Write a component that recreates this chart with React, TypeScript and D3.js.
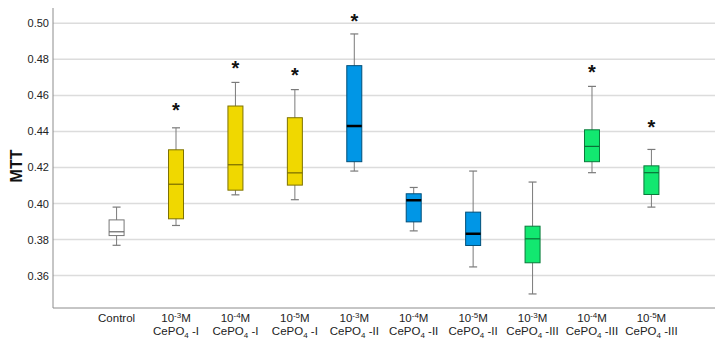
import { useEffect, useRef } from "react"
import * as d3 from "d3"

// Group labels: concentration (superscript exponent) and compound series
const exponents = ["", "-3", "-4", "-5", "-3", "-4", "-5", "-3", "-4", "-5"]
const series = ["Control", "I", "I", "I", "II", "II", "II", "III", "III", "III"]
const groups = ["Control", "I-3", "I-4", "I-5", "II-3", "II-4", "II-5", "III-3", "III-4", "III-5"]

// Box plot statistics for each group
const whiskerLow = [0.3768, 0.3878, 0.4048, 0.4021, 0.418, 0.3848, 0.3648, 0.3498, 0.4171, 0.398]
const q1 = [0.3822, 0.3915, 0.4074, 0.4102, 0.4232, 0.3898, 0.3767, 0.3671, 0.4232, 0.405]
const median = [0.3843, 0.4107, 0.4215, 0.417, 0.443, 0.4018, 0.3832, 0.3804, 0.4317, 0.4171]
const q3 = [0.3909, 0.4298, 0.4541, 0.4476, 0.4765, 0.4054, 0.3952, 0.3874, 0.4409, 0.4209]
const whiskerHigh = [0.398, 0.442, 0.4672, 0.4632, 0.4941, 0.4089, 0.418, 0.4119, 0.465, 0.43]

// Significance markers (null = not significant)
const stars: (number | null)[] = [null, 0.4544, 0.478, 0.4743, 0.504, null, null, null, 0.476, 0.445]

const yTicks = [0.36, 0.38, 0.4, 0.42, 0.44, 0.46, 0.48, 0.5]

const seriesColor: Record<string, string> = {
  Control: "#ffffff",
  I: "#f0d800",
  II: "#0096e6",
  III: "#12e870",
}

export default function App() {
  const svgRef = useRef<SVGSVGElement>(null)

  useEffect(() => {
    if (!svgRef.current) return
    document.body.style.margin = "0"

    const svg = d3.select(svgRef.current)
    svg.selectAll("*").remove()

    const width = 725
    const height = 343
    const left = 53
    const right = 715
    const top = 8
    const bottom = 308
    const font = "Arial, 'Liberation Sans', sans-serif"

    svg.attr("width", width).attr("height", height)

    const x = d3.scalePoint<string>().domain(groups).range([left, right]).padding(1.07)
    const y = d3.scaleLinear().domain([0.342, 0.5085]).range([bottom, top])

    // Gridlines
    svg
      .append("g")
      .selectAll("line")
      .data(yTicks)
      .enter()
      .append("line")
      .attr("x1", left)
      .attr("x2", right)
      .attr("y1", (d) => y(d))
      .attr("y2", (d) => y(d))
      .attr("stroke", "#dcdcdc")
      .attr("stroke-width", 1.5)

    // Y axis
    const yAxis = svg
      .append("g")
      .attr("transform", `translate(${left},0)`)
      .call(
        d3
          .axisLeft(y)
          .tickValues(yTicks)
          .tickSize(0)
          .tickPadding(4)
          .tickFormat(d3.format(".2f"))
      )
    yAxis.select(".domain").remove()
    yAxis
      .selectAll("text")
      .style("font-family", font)
      .style("font-size", "11px")
      .style("fill", "#222")

    svg
      .append("line")
      .attr("x1", left)
      .attr("x2", left)
      .attr("y1", top)
      .attr("y2", bottom)
      .attr("stroke", "#8c8c8c")
    svg
      .append("line")
      .attr("x1", left)
      .attr("x2", right)
      .attr("y1", bottom)
      .attr("y2", bottom)
      .attr("stroke", "#8c8c8c")

    // Y axis title
    svg
      .append("text")
      .attr("transform", `translate(22,${(top + bottom) / 2 + 8}) rotate(-90)`)
      .attr("text-anchor", "middle")
      .style("font-family", font)
      .style("font-size", "16px")
      .style("font-weight", "bold")
      .style("fill", "#111")
      .text("MTT")

    const boxW = 15
    const capW = 8
    const idx = d3.range(groups.length)

    const box = svg
      .append("g")
      .selectAll("g")
      .data(idx)
      .enter()
      .append("g")
      .attr("transform", (i) => `translate(${x(groups[i])},0)`)

    // Whiskers
    box
      .append("line")
      .attr("y1", (i) => y(whiskerLow[i]))
      .attr("y2", (i) => y(whiskerHigh[i]))
      .attr("stroke", "#7a7a7a")
    box
      .append("line")
      .attr("x1", -capW / 2)
      .attr("x2", capW / 2)
      .attr("y1", (i) => y(whiskerHigh[i]))
      .attr("y2", (i) => y(whiskerHigh[i]))
      .attr("stroke", "#7a7a7a")
      .attr("stroke-width", 1.2)
    box
      .append("line")
      .attr("x1", -capW / 2)
      .attr("x2", capW / 2)
      .attr("y1", (i) => y(whiskerLow[i]))
      .attr("y2", (i) => y(whiskerLow[i]))
      .attr("stroke", "#7a7a7a")
      .attr("stroke-width", 1.2)

    // Boxes
    box
      .append("rect")
      .attr("x", -boxW / 2)
      .attr("width", boxW)
      .attr("y", (i) => y(q3[i]))
      .attr("height", (i) => y(q1[i]) - y(q3[i]))
      .attr("fill", (i) => seriesColor[series[i]])
      .attr("stroke", (i) =>
        series[i] === "Control" ? "#777" : d3.color(seriesColor[series[i]])!.darker(1.8).formatHex()
      )

    // Medians
    box
      .append("line")
      .attr("x1", -boxW / 2)
      .attr("x2", boxW / 2)
      .attr("y1", (i) => y(median[i]))
      .attr("y2", (i) => y(median[i]))
      .attr("stroke", (i) =>
        series[i] === "II" ? "#000" : series[i] === "Control" ? "#666" : d3.color(seriesColor[series[i]])!.darker(2).formatHex()
      )
      .attr("stroke-width", (i) => (series[i] === "II" ? 2.5 : 1.2))

    // Significance asterisks
    box
      .filter((i) => stars[i] !== null)
      .append("text")
      .attr("y", (i) => y(stars[i] as number))
      .attr("dy", "0.6em")
      .attr("text-anchor", "middle")
      .style("font-family", font)
      .style("font-size", "20px")
      .style("font-weight", "bold")
      .style("fill", "#111")
      .text("*")

    // Category labels
    const label = svg
      .append("g")
      .selectAll("g")
      .data(idx)
      .enter()
      .append("g")
      .attr("transform", (i) => `translate(${x(groups[i])},0)`)
      .style("font-family", font)
      .style("font-size", "11.5px")
      .style("fill", "#222")

    label
      .filter((i) => series[i] === "Control")
      .append("text")
      .attr("y", 322)
      .attr("text-anchor", "middle")
      .text("Control")

    const line1 = label
      .filter((i) => series[i] !== "Control")
      .append("text")
      .attr("y", 322)
      .attr("text-anchor", "middle")
    line1.append("tspan").text("10")
    line1
      .append("tspan")
      .attr("dy", -4)
      .style("font-size", "8px")
      .text((i) => exponents[i])
    line1.append("tspan").attr("dy", 4).text("M")

    const line2 = label
      .filter((i) => series[i] !== "Control")
      .append("text")
      .attr("y", 335)
      .attr("text-anchor", "middle")
    line2.append("tspan").text("CePO")
    line2
      .append("tspan")
      .attr("dy", 2.5)
      .style("font-size", "8px")
      .text("4")
    line2
      .append("tspan")
      .attr("dy", -2.5)
      .text((i) => ` -${series[i]}`)
  }, [])

  return <svg ref={svgRef} style={{ display: "block" }}></svg>
}
